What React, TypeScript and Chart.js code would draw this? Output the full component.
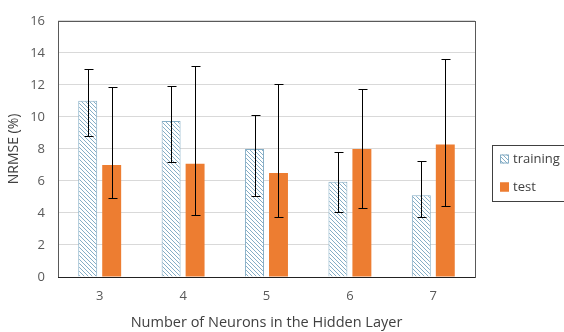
import React, { useEffect, useRef } from "react";
import { Chart, registerables } from "chart.js";

Chart.register(...registerables);

const categories = ["3", "4", "5", "6", "7"];
const trainingValues = [11.0, 9.75, 8.0, 5.95, 5.1];
const trainingUpper = [13.0, 11.9, 10.1, 7.8, 7.25];
const trainingLower = [8.8, 7.2, 5.05, 4.05, 3.72];
const testValues = [7.0, 7.08, 6.5, 8.0, 8.28];
const testUpper = [11.85, 13.15, 12.08, 11.73, 13.6];
const testLower = [4.95, 3.85, 3.75, 4.32, 4.42];
const yTicks = [0, 2, 4, 6, 8, 10, 12, 14, 16];

const FONT = "'Open Sans', 'Liberation Sans', sans-serif";
const TEXT = "#595959";
const ORANGE = "#ED7D31";
const HATCH = "#86AEC6";

function makeHatch(): CanvasPattern | string {
  const c = document.createElement("canvas");
  c.width = 4;
  c.height = 4;
  const ctx = c.getContext("2d");
  if (!ctx) return HATCH;
  ctx.fillStyle = "#ffffff";
  ctx.fillRect(0, 0, 4, 4);
  ctx.strokeStyle = HATCH;
  ctx.lineWidth = 1;
  ctx.beginPath();
  ctx.moveTo(-1, -1);
  ctx.lineTo(5, 5);
  ctx.moveTo(-1, 3);
  ctx.lineTo(1, 5);
  ctx.moveTo(3, -1);
  ctx.lineTo(5, 1);
  ctx.stroke();
  const p = ctx.createPattern(c, "repeat");
  return p || HATCH;
}

const errorBars = {
  id: "errorBars",
  afterDatasetsDraw(chart: any) {
    const ctx = chart.ctx;
    const y = chart.scales.y;
    const sets = [
      [trainingUpper, trainingLower],
      [testUpper, testLower],
    ];
    ctx.save();
    ctx.strokeStyle = "#000000";
    ctx.lineWidth = 1;
    sets.forEach(([up, lo], di) => {
      const meta = chart.getDatasetMeta(di);
      meta.data.forEach((bar: any, i: number) => {
        const x = Math.round(bar.x) + 0.5;
        const yt = Math.round(y.getPixelForValue(up[i])) + 0.5;
        const yb = Math.round(y.getPixelForValue(lo[i])) + 0.5;
        ctx.beginPath();
        ctx.moveTo(x, yt);
        ctx.lineTo(x, yb);
        ctx.moveTo(x - 4, yt);
        ctx.lineTo(x + 5, yt);
        ctx.moveTo(x - 4, yb);
        ctx.lineTo(x + 5, yb);
        ctx.stroke();
      });
    });
    ctx.restore();
  },
};

const frameAndLegend = {
  id: "frameAndLegend",
  afterDraw(chart: any) {
    const ctx = chart.ctx;
    const a = chart.chartArea;
    ctx.save();
    ctx.strokeStyle = "#595959";
    ctx.lineWidth = 1;
    ctx.strokeRect(Math.round(a.left) + 0.5, Math.round(a.top) + 0.5, Math.round(a.right - a.left), Math.round(a.bottom - a.top));
    ctx.strokeStyle = "#222222";
    ctx.beginPath();
    ctx.moveTo(a.left, Math.round(a.bottom) + 0.5);
    ctx.lineTo(a.right, Math.round(a.bottom) + 0.5);
    ctx.stroke();

    // legend box
    const lx = 492.5;
    const ly = 145.5;
    ctx.strokeStyle = "#404040";
    ctx.strokeRect(lx, ly, 80, 56);
    const ds = chart.data.datasets;
    const items = [
      { label: ds[0].label, fill: ds[0].backgroundColor, border: HATCH, cy: 159 },
      { label: ds[1].label, fill: ds[1].backgroundColor, border: ORANGE, cy: 187 },
    ];
    ctx.font = `13px ${FONT}`;
    ctx.textBaseline = "middle";
    items.forEach((it) => {
      ctx.fillStyle = it.fill;
      ctx.fillRect(500, it.cy - 4.5, 9, 9);
      ctx.strokeStyle = it.border;
      ctx.strokeRect(500.5, it.cy - 4, 8, 8);
      ctx.fillStyle = "#404040";
      ctx.fillText(it.label, 513, it.cy);
    });
    ctx.restore();
  },
};

export default function App() {
  const ref = useRef<HTMLCanvasElement | null>(null);

  useEffect(() => {
    if (!ref.current) return;
    const hatch = makeHatch();
    const chart = new Chart(ref.current, {
      type: "bar",
      data: {
        labels: categories,
        datasets: [
          {
            label: "training",
            data: trainingValues,
            backgroundColor: hatch as any,
            borderColor: HATCH,
            borderWidth: 1,
            barPercentage: 0.79,
            categoryPercentage: 0.575,
          },
          {
            label: "test",
            data: testValues,
            backgroundColor: ORANGE,
            borderWidth: 0,
            barPercentage: 0.79,
            categoryPercentage: 0.575,
          },
        ],
      },
      options: {
        animation: false,
        responsive: true,
        maintainAspectRatio: false,
        layout: { padding: { top: 14, right: 89, left: 0, bottom: 0 } },
        plugins: {
          legend: { display: false },
          tooltip: { enabled: false },
        },
        scales: {
          x: {
            grid: { display: false, drawTicks: false },
            border: { display: false },
            ticks: { color: TEXT, font: { family: FONT, size: 13 }, padding: 11 },
            title: {
              display: true,
              text: "Number of Neurons in the Hidden Layer",
              color: "#404040",
              font: { family: FONT, size: 14.5 },
              padding: { top: 3, bottom: 0 },
            },
            afterFit(scale: any) {
              scale.height = 55;
            },
          },
          y: {
            min: 0,
            max: 16,
            afterBuildTicks(scale: any) {
              scale.ticks = yTicks.map((v) => ({ value: v }));
            },
            grid: { color: "#D9D9D9", drawTicks: false },
            border: { display: false },
            ticks: { color: TEXT, font: { family: FONT, size: 13 }, padding: 13 },
            title: {
              display: true,
              text: "NRMSE (%)",
              color: "#404040",
              font: { family: FONT, size: 14 },
              padding: { top: 6, bottom: 0 },
            },
            afterFit(scale: any) {
              scale.width = 58;
            },
          },
        },
      },
      plugins: [errorBars, frameAndLegend],
    });
    return () => chart.destroy();
  }, []);

  return (
    <div style={{ position: "fixed", left: 0, top: 0, width: 564, height: 332, background: "#ffffff" }}>
      <canvas ref={ref} />
    </div>
  );
}
